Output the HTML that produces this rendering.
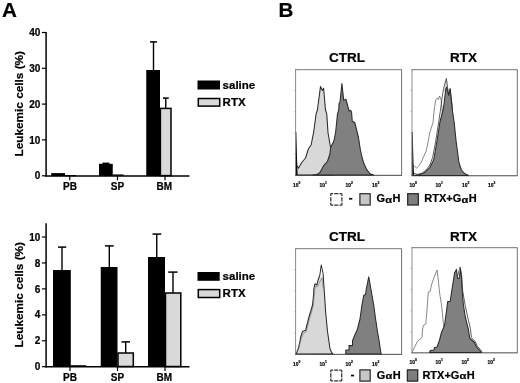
<!DOCTYPE html>
<html><head><meta charset="utf-8">
<style>
html,body{margin:0;padding:0;background:#fff;}
body{width:520px;height:383px;overflow:hidden;}
svg{display:block;filter:blur(0.3px);}
text{font-family:"Liberation Sans",sans-serif;font-weight:bold;fill:#000;stroke:#000;stroke-width:0.22px;}
.ax{stroke:#000;fill:none;}
.t10{font-size:10px;}
.lg{font-size:11.5px;}
.yl{font-size:11.8px;}
.ttl{font-size:13.5px;}
.hl{font-size:11px;}
.tk{font-weight:normal;font-size:6.2px;fill:#727272;stroke:none;}
.tk tspan{font-size:4.2px;}
</style></head><body>
<svg width="520" height="383" viewBox="0 0 520 383">
<rect width="520" height="383" fill="#fff"/>

<!-- ================= PANEL A ================= -->
<text x="2" y="17.4" font-size="20.6">A</text>

<!-- top bar chart -->
<g id="chartTop">
<line class="ax" x1="46.1" y1="31.9" x2="46.1" y2="176.5" stroke-width="1.5"/>
<line class="ax" x1="45.4" y1="175.9" x2="189.5" y2="175.9" stroke-width="1.5"/>
<g class="ax" stroke-width="1.2">
<line x1="41.9" y1="32.5" x2="46" y2="32.5"/>
<line x1="41.9" y1="68.3" x2="46" y2="68.3"/>
<line x1="41.9" y1="104.1" x2="46" y2="104.1"/>
<line x1="41.9" y1="139.9" x2="46" y2="139.9"/>
<line x1="41.9" y1="175.8" x2="46" y2="175.8"/>
<line x1="69.75" y1="176" x2="69.75" y2="180.3"/>
<line x1="117.5" y1="176" x2="117.5" y2="180.3"/>
<line x1="165" y1="176" x2="165" y2="180.3"/>
</g>
<g class="t10" text-anchor="end">
<text x="40.4" y="36.1">40</text>
<text x="40.4" y="71.9">30</text>
<text x="40.4" y="107.7">20</text>
<text x="40.4" y="143.5">10</text>
<text x="40.4" y="179.4">0</text>
</g>
<g class="t10" text-anchor="middle">
<text x="70" y="189.9">PB</text>
<text x="117.5" y="189.9">SP</text>
<text x="164.2" y="189.9">BM</text>
</g>
<text class="yl" text-anchor="middle" transform="translate(23.1,103.75) rotate(-90)">Leukemic cells (%)</text>
<!-- bars -->
<rect x="51.25" y="173.1" width="13.75" height="3" fill="#000"/>
<rect x="65" y="175" width="11" height="1.2" fill="#000"/>
<rect x="99" y="163.8" width="13.75" height="12.2" fill="#000"/>
<rect x="102.5" y="162.6" width="6.9" height="1.4" fill="#000"/>
<rect x="112.75" y="174.4" width="11" height="1.6" fill="#111"/>
<rect x="146.25" y="70" width="13.75" height="106" fill="#000"/>
<line class="ax" x1="153.5" y1="41.75" x2="153.5" y2="70" stroke-width="1.4"/>
<line class="ax" x1="150" y1="41.9" x2="157" y2="41.9" stroke-width="1.5"/>
<rect x="160.4" y="108.4" width="10.6" height="67.2" fill="#d9d9d9" stroke="#000" stroke-width="1.5"/>
<line class="ax" x1="165.75" y1="98" x2="165.75" y2="108" stroke-width="1.4"/>
<line class="ax" x1="163" y1="98.1" x2="168.75" y2="98.1" stroke-width="1.5"/>
<!-- legend -->
<rect x="197.5" y="80.5" width="22.5" height="9" fill="#000"/>
<text class="lg" x="222.6" y="89">saline</text>
<rect x="198.3" y="98.5" width="21.4" height="7.6" fill="#d9d9d9" stroke="#000" stroke-width="1.5"/>
<text class="lg" x="222.6" y="106">RTX</text>
</g>

<!-- bottom bar chart -->
<g id="chartBot">
<line class="ax" x1="46.1" y1="223.2" x2="46.1" y2="367.4" stroke-width="1.5"/>
<line class="ax" x1="45.4" y1="366.8" x2="189.5" y2="366.8" stroke-width="1.5"/>
<g class="ax" stroke-width="1.2">
<line x1="41.9" y1="237" x2="46" y2="237"/>
<line x1="41.9" y1="262.95" x2="46" y2="262.95"/>
<line x1="41.9" y1="288.9" x2="46" y2="288.9"/>
<line x1="41.9" y1="314.85" x2="46" y2="314.85"/>
<line x1="41.9" y1="340.8" x2="46" y2="340.8"/>
<line x1="41.9" y1="366.7" x2="46" y2="366.7"/>
<line x1="70" y1="367" x2="70" y2="371"/>
<line x1="117.5" y1="367" x2="117.5" y2="371"/>
<line x1="165" y1="367" x2="165" y2="371"/>
</g>
<g class="t10" text-anchor="end">
<text x="40.4" y="240.6">10</text>
<text x="40.4" y="266.5">8</text>
<text x="40.4" y="292.5">6</text>
<text x="40.4" y="318.4">4</text>
<text x="40.4" y="344.4">2</text>
<text x="40.4" y="370.3">0</text>
</g>
<g class="t10" text-anchor="middle">
<text x="70" y="381">PB</text>
<text x="117.5" y="381">SP</text>
<text x="164.2" y="381">BM</text>
</g>
<text class="yl" text-anchor="middle" transform="translate(23.1,294.75) rotate(-90)">Leukemic cells (%)</text>
<!-- bars -->
<rect x="53" y="270" width="17.8" height="97" fill="#000"/>
<line class="ax" x1="62" y1="247" x2="62" y2="270" stroke-width="1.4"/>
<line class="ax" x1="58" y1="247.1" x2="66.25" y2="247.1" stroke-width="1.5"/>
<rect x="70.5" y="365.2" width="15.75" height="1.6" fill="#000"/>
<rect x="100.75" y="267" width="16.75" height="100" fill="#000"/>
<line class="ax" x1="109.3" y1="245.75" x2="109.3" y2="267" stroke-width="1.4"/>
<line class="ax" x1="105" y1="245.9" x2="113.75" y2="245.9" stroke-width="1.5"/>
<rect x="118" y="353" width="15.3" height="13.5" fill="#d9d9d9" stroke="#000" stroke-width="1.5"/>
<line class="ax" x1="125.7" y1="341.75" x2="125.7" y2="353" stroke-width="1.4"/>
<line class="ax" x1="121.5" y1="341.9" x2="130" y2="341.9" stroke-width="1.5"/>
<rect x="148" y="257" width="17" height="110" fill="#000"/>
<line class="ax" x1="156.75" y1="234" x2="156.75" y2="257" stroke-width="1.4"/>
<line class="ax" x1="152.5" y1="234.1" x2="161.25" y2="234.1" stroke-width="1.5"/>
<rect x="165.5" y="293" width="15.3" height="73.5" fill="#d9d9d9" stroke="#000" stroke-width="1.5"/>
<line class="ax" x1="173" y1="272" x2="173" y2="293" stroke-width="1.4"/>
<line class="ax" x1="168.25" y1="272.1" x2="177.5" y2="272.1" stroke-width="1.5"/>
<!-- legend -->
<rect x="197.5" y="272" width="22.2" height="8.8" fill="#000"/>
<text class="lg" x="222.6" y="280.2">saline</text>
<rect x="198.3" y="289.6" width="21.4" height="7.9" fill="#d9d9d9" stroke="#000" stroke-width="1.5"/>
<text class="lg" x="222.6" y="297.2">RTX</text>
</g>

<!-- ================= PANEL B ================= -->
<text x="278.4" y="17.4" font-size="20.6">B</text>
<text class="ttl" text-anchor="middle" x="347" y="62.2">CTRL</text>
<text class="ttl" text-anchor="middle" x="463.5" y="62.2">RTX</text>
<text class="ttl" text-anchor="middle" x="347" y="241.3">CTRL</text>
<text class="ttl" text-anchor="middle" x="463.5" y="241.3">RTX</text>

<!-- plot 1 : top CTRL -->
<g id="p1">
<polygon fill="#d8d8d8" stroke="#2a2a2a" stroke-width="1.05" stroke-linejoin="round" points="296.3,175 296.3,165 298.5,168.1 301.75,162.5 305.5,158 306.1,156.25 308,150 309.25,147.5 311.1,145 313.6,132.5 316.1,113.9 317.4,110 320.5,86.6 322.4,90.4 323.6,88.25 325.5,110 326.75,113.9 328,132.5 330.5,147.5 331.5,160 332.5,170 333.5,175"/>
<polygon fill="#808080" stroke="#2a2a2a" stroke-width="1.05" stroke-linejoin="round" points="313.1,175 316.9,174.4 320,172.5 323.75,165.6 327.5,161.25 330,153.75 330.6,147.5 333.75,141.25 335.6,132.5 337.5,113.9 338.75,110 339,103.5 340,102 341.9,83.5 343.75,100.4 345.9,99.1 349.1,111 350.75,110.4 351.6,112.5 352.25,121.25 354.75,122.5 358.5,137.5 360.4,150 362.25,158 363.5,162.5 366.6,169.4 370,173.75 373.75,175"/>
<polygon fill="#000" points="295.4,175 295.4,132 296.3,132 297.1,160 297.6,175"/>
<path d="M295.6,175.5V69.5" fill="none" stroke="#8c8c8c" stroke-width="1"/><path d="M295.1,69.7H401.6" fill="none" stroke="#666" stroke-width="0.9"/>
<path d="M401.6,69.5V175" fill="none" stroke="#555" stroke-width="0.85"/>
<path d="M295.1,175.35H402.1" fill="none" stroke="#2a2a2a" stroke-width="0.85"/>
<g stroke="#999" stroke-width="0.6"><line x1="294" y1="90.6" x2="295.6" y2="90.6"/><line x1="294" y1="111.7" x2="295.6" y2="111.7"/><line x1="294" y1="132.8" x2="295.6" y2="132.8"/><line x1="294" y1="153.9" x2="295.6" y2="153.9"/></g>
<g class="tk"><text transform="translate(293.0,187.3) scale(0.8,1)">10<tspan dy="-2.9">0</tspan></text><text transform="translate(319.4,187.3) scale(0.8,1)">10<tspan dy="-2.9">1</tspan></text><text transform="translate(345.6,187.3) scale(0.8,1)">10<tspan dy="-2.9">2</tspan></text><text transform="translate(371.9,187.3) scale(0.8,1)">10<tspan dy="-2.9">3</tspan></text></g>
</g>

<!-- plot 2 : top RTX -->
<g id="p2">
<polyline fill="none" stroke="#555" stroke-width="0.7" stroke-linejoin="round" points="412.6,175 412.6,166 413.75,165.6 416.7,168.1 418.6,166.25 422.35,160 423,158 426.1,151.25 428,142.5 429.85,132.5 433,122.5 434.2,110 435.6,100 437.35,97.9 438.4,99.5 439.6,96 441.1,99.75 442.6,114 444.1,135 446.1,160 448.1,175"/>
<polygon fill="#d8d8d8" stroke="none" points="443.6,92 446.35,78.5 448.1,90"/>
<polyline fill="none" stroke="#333" stroke-width="0.8" stroke-linejoin="round" points="412.6,175 413,173 417.35,174.4 422.35,173.1 426.1,170 429.85,165 432.6,157.5 434.1,150 436.1,138.75 438.6,122.5 440.5,110 442.35,96 443.6,88.5 446.35,78.5 447.7,88 448.7,95 450.2,88.6 452.6,110"/>
<polygon fill="#808080" stroke="#2a2a2a" stroke-width="1.05" stroke-linejoin="round" points="414,175.4 419.85,174.4 424.85,172.5 429.85,167.5 433.6,160 435.1,152 437.35,138.75 439.85,122.5 443,110 443.6,107.25 445.85,88.5 446.7,87.25 448.6,95.4 450.1,89.1 452.35,110 454.2,122.5 456.1,141.25 457.6,152 458.9,162.5 461.4,170 464.85,173.75 468.6,175.4"/>
<polygon fill="#000" points="411.8,175.4 411.8,132 412.7,132 413.4,160 414,175.4"/>
<path d="M412,175.9V69.5" fill="none" stroke="#8c8c8c" stroke-width="1"/><path d="M411.5,69.7H517.3" fill="none" stroke="#666" stroke-width="0.9"/>
<path d="M517.3,69.5V175.4" fill="none" stroke="#555" stroke-width="0.85"/>
<path d="M411.5,175.75H517.8" fill="none" stroke="#2a2a2a" stroke-width="0.85"/>
<g stroke="#999" stroke-width="0.6"><line x1="410.4" y1="90.6" x2="412" y2="90.6"/><line x1="410.4" y1="111.7" x2="412" y2="111.7"/><line x1="410.4" y1="132.8" x2="412" y2="132.8"/><line x1="410.4" y1="153.9" x2="412" y2="153.9"/></g>
<g class="tk"><text transform="translate(409.4,187.3) scale(0.8,1)">10<tspan dy="-2.9">0</tspan></text><text transform="translate(435.6,187.3) scale(0.8,1)">10<tspan dy="-2.9">1</tspan></text><text transform="translate(461.9,187.3) scale(0.8,1)">10<tspan dy="-2.9">2</tspan></text><text transform="translate(488.1,187.3) scale(0.8,1)">10<tspan dy="-2.9">3</tspan></text></g>
</g>

<!-- legend 1 -->
<g id="lg1">
<g fill="none" stroke="#333" stroke-width="1.25"><path d="M330.8,193.5H341.9" stroke-dasharray="2.4,1.05,4.2,1.05,2.4,0"/><path d="M330.8,205.2H341.9" stroke-dasharray="2.4,1.05,4.2,1.05,2.4,0"/><path d="M330.8,193.5V205.2" stroke-dasharray="2.4,1.35,4.2,1.35,2.4,0"/><path d="M341.9,193.5V205.2" stroke-dasharray="2.4,1.35,4.2,1.35,2.4,0"/></g>
<rect x="349.1" y="197.9" width="3.2" height="1.7" fill="#000"/>
<rect x="359.9" y="193.7" width="10.3" height="11.3" fill="#c6c6c6" stroke="#333" stroke-width="1.3"/>
<text class="hl" x="376.45" y="202.3">G</text><text class="hl" transform="translate(385.20,202.60) scale(1.22,1)" font-size="9.1" style="font-size:9.1px">α</text><text class="hl" x="392.40" y="202.3">H</text>
<rect x="407.7" y="193.7" width="10.6" height="11.3" fill="#7e7e7e" stroke="#2a2a2a" stroke-width="1.3"/>
<text class="hl" x="424.30" y="202.3">RTX+G</text><text class="hl" transform="translate(461.47,202.60) scale(1.22,1)" font-size="9.1" style="font-size:9.1px">α</text><text class="hl" x="468.67" y="202.3">H</text>
</g>

<!-- plot 3 : bottom CTRL -->
<g id="p3">
<polygon fill="#d8d8d8" stroke="#2a2a2a" stroke-width="1.05" stroke-linejoin="round" points="296.25,353.75 298.75,347.5 300.6,337.5 302.5,331.5 305.6,330.25 308.75,317.75 312.5,305.25 313.75,293 313.75,289 315,283.75 316.9,285 318.1,280 320,274.4 321.25,265 323.1,273.75 324.4,293 325.6,311.5 327.5,331.5 328.75,340 330,348.75 331.9,353 333,354"/>
<polygon fill="#f4f4f4" stroke="none" points="320.7,274 321.3,267.5 322.3,273 322.4,277 321.9,276.5 320.6,279"/>
<polyline fill="none" stroke="#666" stroke-width="0.5" points="297,352 299.5,345 301.5,338.5 303.5,333.5 306.3,332 309.5,319 313.2,306.5 314.6,292 315.6,286 317.4,287 319.4,282.5 321.9,278 323.2,288"/>
<polygon fill="#808080" stroke="#2a2a2a" stroke-width="1.05" stroke-linejoin="round" points="345.8,354 345.8,350 349,350 349,345.6 352.5,345.6 352.5,340.6 354.4,336 357.5,329 360,319 361.9,305.25 363.75,295.25 365.6,294.6 366.25,289 368.75,276.9 371.25,291 373.75,305.25 375.6,319 377.5,331.5 379.4,342.5 380.6,351.25 381.25,354"/>
<path d="M295.6,354.5V248.5" fill="none" stroke="#8c8c8c" stroke-width="1"/><path d="M295.1,248.7H401.6" fill="none" stroke="#666" stroke-width="0.9"/>
<path d="M401.6,248.5V354" fill="none" stroke="#555" stroke-width="0.85"/>
<path d="M295.1,354.35H402.1" fill="none" stroke="#2a2a2a" stroke-width="0.85"/>
<g stroke="#999" stroke-width="0.6"><line x1="294" y1="269.6" x2="295.6" y2="269.6"/><line x1="294" y1="290.7" x2="295.6" y2="290.7"/><line x1="294" y1="311.8" x2="295.6" y2="311.8"/><line x1="294" y1="332.9" x2="295.6" y2="332.9"/></g>
<g class="tk"><text transform="translate(293.0,366.0) scale(0.8,1)">10<tspan dy="-2.9">0</tspan></text><text transform="translate(319.4,366.0) scale(0.8,1)">10<tspan dy="-2.9">1</tspan></text><text transform="translate(345.6,366.0) scale(0.8,1)">10<tspan dy="-2.9">2</tspan></text><text transform="translate(371.9,366.0) scale(0.8,1)">10<tspan dy="-2.9">3</tspan></text></g>
</g>

<!-- plot 4 : bottom RTX -->
<g id="p4">
<polyline fill="none" stroke="#555" stroke-width="0.7" stroke-linejoin="round" points="412.2,352.3 414.4,347.5 417.5,341.25 422.05,337.5 422.4,331 423.3,325.25 425.8,324 427.05,309 428.3,292 430.2,291.5 431.45,285 433.95,277.5 437.1,270 438.3,280 439.6,293 441.4,304 443.3,322.75 444.8,335 446.8,352.5"/>
<polygon fill="#808080" stroke="#2a2a2a" stroke-width="1.05" stroke-linejoin="round" points="429.55,352.5 430.2,350.6 433.9,350 434.55,347.5 437.05,346.9 439.55,340 441.4,332.75 444.55,325.25 446.4,311.5 447.7,301.5 450.2,301.5 452.05,289 453.3,281 454.55,273 456.4,269.4 457.6,278.5 459.2,278.5 460.4,269.5 461.4,276 462.05,289 463.3,304 465.2,316.5 468.3,329 469.55,337 470.2,338.75 474.55,342.5 476.4,346.9 479.4,350 481.25,352.5"/>
<polyline fill="none" stroke="#333" stroke-width="0.8" stroke-linejoin="round" points="457.6,276 458.4,273 460.2,266.9 461.7,276 462.7,291 465.2,305.5 467.7,317 470.4,328.5 471.4,337.6 475.4,341.8 477.4,346.3 480.4,349.5 482.2,352.5"/>
<path d="M412,353V247.5" fill="none" stroke="#8c8c8c" stroke-width="1"/><path d="M411.5,247.7H517.3" fill="none" stroke="#666" stroke-width="0.9"/>
<path d="M517.3,247.5V352.5" fill="none" stroke="#555" stroke-width="0.85"/>
<path d="M411.5,352.85H517.8" fill="none" stroke="#2a2a2a" stroke-width="0.85"/>
<g stroke="#999" stroke-width="0.6"><line x1="410.4" y1="268.6" x2="412" y2="268.6"/><line x1="410.4" y1="289.7" x2="412" y2="289.7"/><line x1="410.4" y1="310.8" x2="412" y2="310.8"/><line x1="410.4" y1="331.9" x2="412" y2="331.9"/></g>
<g class="tk"><text transform="translate(409.4,364.3) scale(0.8,1)">10<tspan dy="-2.9">0</tspan></text><text transform="translate(435.6,364.3) scale(0.8,1)">10<tspan dy="-2.9">1</tspan></text><text transform="translate(461.5,364.3) scale(0.8,1)">10<tspan dy="-2.9">2</tspan></text><text transform="translate(487.5,364.3) scale(0.8,1)">10<tspan dy="-2.9">3</tspan></text></g>
</g>

<!-- legend 2 -->
<g id="lg2">
<g fill="none" stroke="#333" stroke-width="1.25"><path d="M330.8,370H341.7" stroke-dasharray="2.4,0.95,4.2,0.95,2.4,0"/><path d="M330.8,380.9H341.7" stroke-dasharray="2.4,0.95,4.2,0.95,2.4,0"/><path d="M330.8,370V380.9" stroke-dasharray="2.4,0.95,4.2,0.95,2.4,0"/><path d="M341.7,370V380.9" stroke-dasharray="2.4,0.95,4.2,0.95,2.4,0"/></g>
<rect x="351" y="374.7" width="3.1" height="1.7" fill="#000"/>
<rect x="359.9" y="369.9" width="10.3" height="11.2" fill="#c6c6c6" stroke="#333" stroke-width="1.3"/>
<text class="hl" x="376.80" y="379">G</text><text class="hl" transform="translate(385.55,379.30) scale(1.22,1)" font-size="9.1" style="font-size:9.1px">α</text><text class="hl" x="392.75" y="379">H</text>
<rect x="407.4" y="369.9" width="10.3" height="11.2" fill="#7e7e7e" stroke="#2a2a2a" stroke-width="1.3"/>
<text class="hl" x="422.40" y="379">RTX+G</text><text class="hl" transform="translate(459.57,379.30) scale(1.22,1)" font-size="9.1" style="font-size:9.1px">α</text><text class="hl" x="466.77" y="379">H</text>
</g>
</svg>
</body></html>
